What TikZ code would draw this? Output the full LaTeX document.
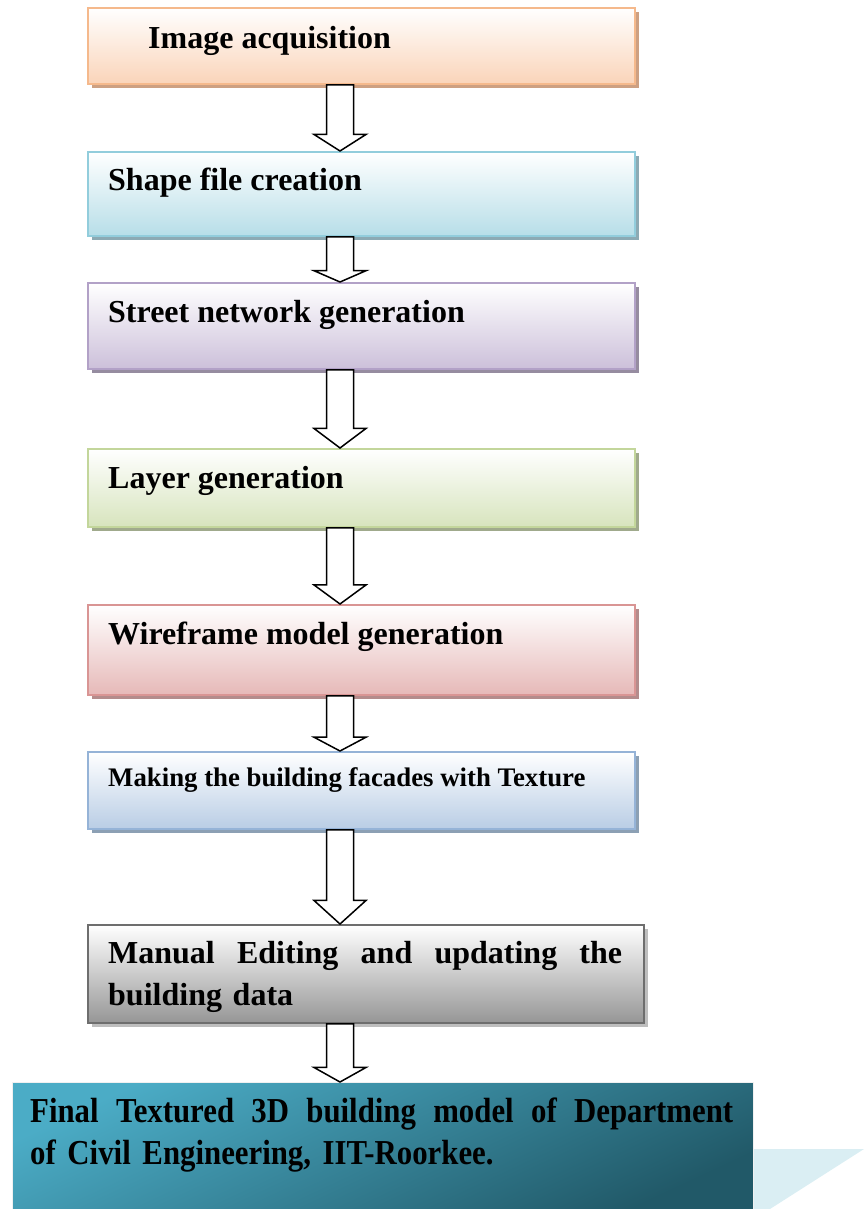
\documentclass[tikz,border=0pt]{standalone}
\usepackage{fontspec}
\setmainfont{Liberation Serif}
\newfontfamily\condfont[FakeStretch=0.88]{Liberation Serif}
\usetikzlibrary{calc,shadows}
\definecolor{b1d}{RGB}{245,185,140}\definecolor{b1f}{RGB}{250,212,185}\definecolor{b1s}{RGB}{205,160,130}
\definecolor{b2d}{RGB}{146,205,220}\definecolor{b2f}{RGB}{183,222,232}\definecolor{b2s}{RGB}{140,170,180}
\definecolor{b3d}{RGB}{178,161,199}\definecolor{b3f}{RGB}{204,192,218}\definecolor{b3s}{RGB}{150,140,160}
\definecolor{b4d}{RGB}{195,214,155}\definecolor{b4f}{RGB}{215,228,189}\definecolor{b4s}{RGB}{160,170,140}
\definecolor{b5d}{RGB}{217,149,148}\definecolor{b5f}{RGB}{230,185,184}\definecolor{b5s}{RGB}{180,140,140}
\definecolor{b6d}{RGB}{149,179,215}\definecolor{b6f}{RGB}{185,205,229}\definecolor{b6s}{RGB}{140,160,180}
\definecolor{b7d}{RGB}{110,110,110}\definecolor{b7f}{RGB}{150,150,150}\definecolor{b7s}{RGB}{190,190,190}
\definecolor{finA}{RGB}{75,172,198}\definecolor{finB}{RGB}{33,89,104}
\definecolor{pale}{RGB}{218,238,243}
\tikzset{
  pbox/.style n args={3}{rectangle, anchor=north west, inner sep=0pt, draw=#1, line width=1.8pt,
     top color=white, bottom color=#2,
     drop shadow={shadow xshift=4pt, shadow yshift=-4pt, fill=#3, opacity=1}},
  lbl/.style={anchor=base west, inner sep=0pt, font=\bfseries\fontsize{32}{37}\selectfont},
  barrow/.style={draw=black, fill=white, line width=1.5pt, line join=miter}
}
\newcommand\blockarrow[2]{%
  \draw[barrow] let \p1=(#1.south), \p2=(#2.north), \n1={0.25*(\y1-\y2)} in
    (326.5pt,\y1) -- (353.5pt,\y1) -- (353.5pt,{\y2+\n1}) -- (366pt,{\y2+\n1})
    -- (340pt,\y2) -- (314pt,{\y2+\n1}) -- (326.5pt,{\y2+\n1}) -- cycle;}
\begin{document}
\begin{tikzpicture}[x=1pt,y=-1pt]
\useasboundingbox (0,0) rectangle (864,1209);
% boxes
\node[pbox={b1d}{b1f}{b1s}, minimum width=547pt, minimum height=76pt] (b1) at (87,7) {};
\node[pbox={b2d}{b2f}{b2s}, minimum width=547pt, minimum height=84pt] (b2) at (87,151) {};
\node[pbox={b3d}{b3f}{b3s}, minimum width=547pt, minimum height=86pt] (b3) at (87,282) {};
\node[pbox={b4d}{b4f}{b4s}, minimum width=547pt, minimum height=78pt] (b4) at (87,448) {};
\node[pbox={b5d}{b5f}{b5s}, minimum width=547pt, minimum height=90pt] (b5) at (87,604) {};
\node[pbox={b6d}{b6f}{b6s}, minimum width=547pt, minimum height=77pt] (b6) at (87,751) {};
\node[pbox={b7d}{b7f}{b7s}, minimum width=556pt, minimum height=98pt] (b7) at (87,924) {};
% final box
\fill[pale] (745,1149) -- (864,1149) -- (770,1209) -- (745,1209) -- cycle;
\node[rectangle, anchor=north west, inner sep=0pt, draw={rgb,255:red,240;green,240;blue,240}, line width=1pt,
      top color=finA, bottom color=finB, shading angle=25,
      minimum width=741pt, minimum height=128pt] (b8) at (12,1082) {};
% texts
\node[lbl] (t1) at (148,49) {Image acquisition};
\node[lbl] (t2) at (108,190) {Shape file creation};
\node[lbl] (t3) at (108,322) {Street network generation};
\node[lbl] (t4) at (108,488) {Layer generation};
\node[lbl] (t5) at (108,644) {Wireframe model generation};
\node[lbl, font=\bfseries\fontsize{26.8}{30}\selectfont] (t6) at (108,786) {Making the building facades with Texture};
\node[lbl, text width=514pt, align=left, font=\bfseries\fontsize{32}{42}\selectfont] (t7) at (108,963)
  {Manual\hfill Editing\hfill and\hfill updating\hfill the\\building data};
\node[lbl, text width=703pt, align=left, font=\condfont\bfseries\fontsize{35}{42}\selectfont] (t8) at (30,1122)
  {Final\hfill Textured\hfill 3D\hfill building\hfill model\hfill of\hfill Department\\of Civil Engineering, IIT-Roorkee.};
% arrows
\blockarrow{b1}{b2}
\blockarrow{b2}{b3}
\blockarrow{b3}{b4}
\blockarrow{b4}{b5}
\blockarrow{b5}{b6}
\blockarrow{b6}{b7}
\blockarrow{b7}{b8}
\end{tikzpicture}
\end{document}
